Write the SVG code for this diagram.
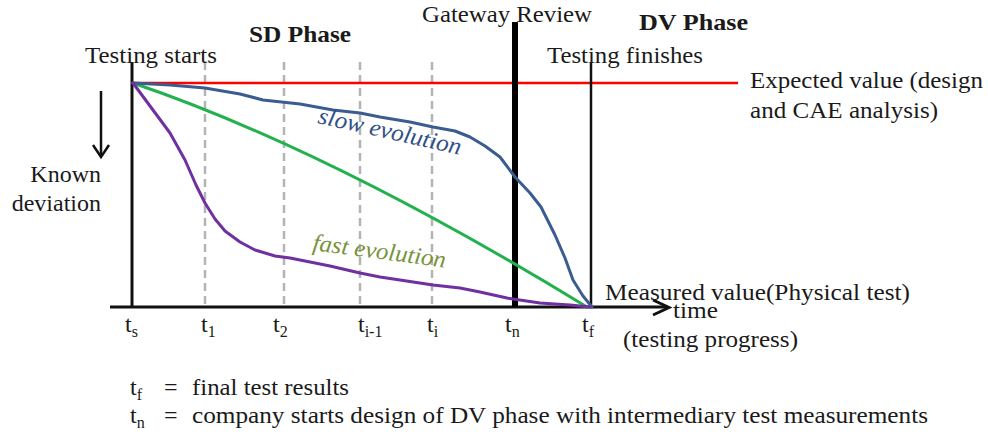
<svg xmlns="http://www.w3.org/2000/svg" width="988" height="438" viewBox="0 0 988 438" font-family="'Liberation Serif', 'Times New Roman', Times, serif">
  <defs>
    <style>
      text { font-family: 'Liberation Serif', 'Times New Roman', Times, serif; font-size: 24px; fill: #1a1a1a; }
      .bold { font-weight: bold; }
      .sub { font-size: 16px; }
      .axis { stroke: #111; stroke-width: 3; fill: none; }
      .guide { stroke: #b4b4b4; stroke-width: 2.5; stroke-dasharray: 8 5; fill: none; }
      .curve { fill: none; stroke-width: 3; stroke-linejoin: round; stroke-linecap: round; }
      .note { font-style: italic; }
    </style>
  </defs>
  <rect width="988" height="438" fill="#ffffff"/>

  <!-- dashed time steps t1, t2, ti-1, ti -->
  <g id="guides">
    <line class="guide" x1="205" y1="62" x2="205" y2="306"/>
    <line class="guide" x1="284" y1="62" x2="284" y2="306"/>
    <line class="guide" x1="360" y1="62" x2="360" y2="306"/>
    <line class="guide" x1="432" y1="62" x2="432" y2="306"/>
  </g>

  <!-- expected value reference line -->
  <g id="expected-line">
    <line x1="133" y1="83" x2="738" y2="83" stroke="#ff0000" stroke-width="2.5"/>
  </g>

  <!-- axes and milestone markers -->
  <g id="axes">
    <line class="axis" x1="110" y1="307" x2="668" y2="307"/>
    <polyline class="axis" points="653,300 669,307.5 653,315" stroke-linejoin="miter"/>
    <line class="axis" x1="132" y1="62" x2="132" y2="307"/>
    <line x1="515" y1="22" x2="515" y2="307" stroke="#000" stroke-width="6"/>
    <line x1="591" y1="63" x2="591" y2="307" stroke="#111" stroke-width="2.5"/>
    <!-- deviation direction arrow -->
    <line x1="101" y1="91" x2="101" y2="156" stroke="#111" stroke-width="2.5"/>
    <polyline points="93,145 101,157 109,145" fill="none" stroke="#111" stroke-width="2.5"/>
  </g>

  <!-- evolution curves -->
  <g id="curves">
    <path id="linear-evolution" class="curve" stroke="#22b14c" d="M133,83 Q330,150 587,307"/>
    <polyline id="slow-curve" class="curve" stroke="#3b5c91" points="133,83 170,85 205,88 240,94 263,100 300,104 333,110 360,113 380,117 410,122 433,127 455,131 470,137 485,146 500,157 515,177 530,193 541,207 555,235 565,258 573,280 583,296 592,307"/>
    <polyline id="fast-curve" class="curve" stroke="#7030a0" points="133,83 150,106 170,133 185,160 196,185 205,203 215,219 225,231 240,242 255,250 275,256 290,258 310,262 330,266 360,273 380,277 400,280 433,285 460,288 480,292 507,298 540,303 570,305 590,307"/>
  </g>

  <!-- phase and milestone labels -->
  <g id="labels">
    <text x="85" y="63" textLength="132" lengthAdjust="spacingAndGlyphs">Testing starts</text>
    <text class="bold" x="249" y="42" textLength="102" lengthAdjust="spacingAndGlyphs">SD Phase</text>
    <text x="422" y="22" textLength="170" lengthAdjust="spacingAndGlyphs">Gateway Review</text>
    <text class="bold" x="639" y="30" textLength="109" lengthAdjust="spacingAndGlyphs">DV Phase</text>
    <text x="547" y="63" textLength="156" lengthAdjust="spacingAndGlyphs">Testing finishes</text>
    <text x="750" y="88" textLength="233" lengthAdjust="spacingAndGlyphs">Expected value (design</text>
    <text x="750" y="118" textLength="188" lengthAdjust="spacingAndGlyphs">and CAE analysis)</text>
    <text x="101" y="182" text-anchor="end">Known</text>
    <text x="101" y="211" text-anchor="end">deviation</text>
    <text x="605" y="300" textLength="305" lengthAdjust="spacingAndGlyphs">Measured value(Physical test)</text>
    <text x="673" y="318" textLength="45" lengthAdjust="spacingAndGlyphs">time</text>
    <text x="623" y="347" textLength="175" lengthAdjust="spacingAndGlyphs">(testing progress)</text>
    <text class="note" style="fill:#2f4f88" transform="translate(317,123) rotate(12.5)" textLength="146" lengthAdjust="spacingAndGlyphs">slow evolution</text>
    <text class="note" style="fill:#77933c" transform="translate(312,250) rotate(7.5)" textLength="134" lengthAdjust="spacingAndGlyphs">fast evolution</text>
  </g>

  <!-- time axis ticks -->
  <g id="ticks">
    <text x="125" y="332">t<tspan class="sub" dy="5">s</tspan></text>
    <text x="201" y="332">t<tspan class="sub" dy="5">1</tspan></text>
    <text x="273" y="332">t<tspan class="sub" dy="5">2</tspan></text>
    <text x="358" y="332">t<tspan class="sub" dy="5">i-1</tspan></text>
    <text x="427" y="332">t<tspan class="sub" dy="5">i</tspan></text>
    <text x="505" y="332">t<tspan class="sub" dy="5">n</tspan></text>
    <text x="582" y="332">t<tspan class="sub" dy="5">f</tspan></text>
  </g>

  <!-- legend -->
  <g id="legend">
    <text x="130" y="395">t<tspan class="sub" dy="5">f</tspan></text>
    <text x="164" y="395">=</text>
    <text x="192" y="395" textLength="157" lengthAdjust="spacingAndGlyphs">final test results</text>
    <text x="130" y="423">t<tspan class="sub" dy="5">n</tspan></text>
    <text x="164" y="423">=</text>
    <text x="192" y="423" textLength="736" lengthAdjust="spacingAndGlyphs">company starts design of DV phase with intermediary test measurements</text>
  </g>
</svg>
